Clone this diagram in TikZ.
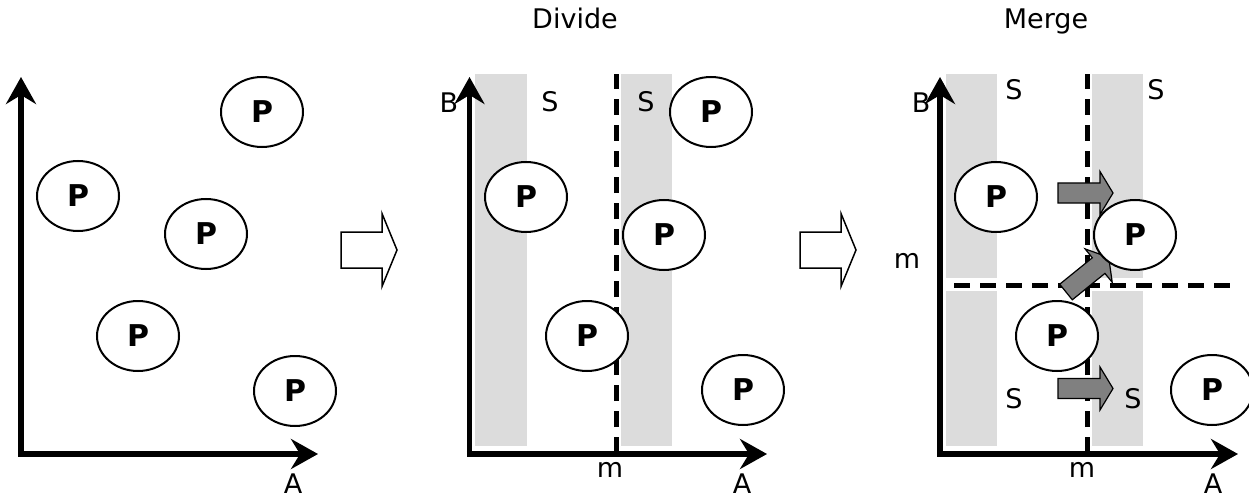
\documentclass[tikz,border=0pt]{standalone}
\usepackage{fontspec}
\setmainfont{DejaVu Sans}
\usetikzlibrary{arrows.meta,shapes.geometric}
\definecolor{stripgrey}{HTML}{DCDCDC}
\definecolor{arrowgrey}{HTML}{808080}
\begin{document}
\begin{tikzpicture}[x=1pt,y=-1pt,
  lbl/.style={font=\fontsize{27}{32}\selectfont, anchor=base, inner sep=0pt},
  pnode/.style={ellipse, draw, line width=2pt, fill=white, minimum width=82pt, minimum height=70pt, inner sep=0pt, font=\fontsize{30}{36}\selectfont\bfseries},
  axis/.style={line width=5.5pt, -{Stealth[length=27pt,width=30pt,inset=9pt]}},
  divline/.style={line width=5pt, dash pattern=on 16pt off 10pt},
  strip/.style={fill=stripgrey, draw=none},
  hollowstyle/.style={line width=1.5pt, fill=white, line join=miter},
  greystyle/.style={line width=1.2pt, fill=arrowgrey, line join=miter},
  hollow/.pic={\draw[hollowstyle] (0,-18)--(41,-18)--(41,-36.5)--(56,0)--(41,36.5)--(41,18)--(0,18)--cycle;},
  garrow/.pic={\draw[greystyle] (0,-10)--(42,-10)--(42,-21.5)--(55,0)--(42,21.5)--(42,10)--(0,10)--cycle;}
]
\useasboundingbox (0,0) rectangle (1249,497);

% grey strips
\fill[strip] (475,74) rectangle (527,446);
\fill[strip] (621,74) rectangle (672,446);
\fill[strip] (946,74) rectangle (997,278);
\fill[strip] (946,291) rectangle (997,446);
\fill[strip] (1092,74) rectangle (1143,278);
\fill[strip] (1092,291) rectangle (1143,446);

% dividing lines
\coordinate (d2b) at (616.5,453); \coordinate (d2t) at (616.5,74);
\draw[divline] (d2b) -- (d2t);
\coordinate (d3b) at (1087,453); \coordinate (d3t) at (1087,74);
\draw[divline] (d3b) -- (d3t);
\coordinate (h3l) at (954,285); \coordinate (h3r) at (1230,285);
\draw[divline] (h3l) -- (h3r);

% axes
\coordinate (o1) at (21,456.75); \coordinate (y1) at (21,77);
\coordinate (o1x) at (18.25,454); \coordinate (x1) at (318,454);
\draw[axis] (o1) -- (y1);
\draw[axis] (o1x) -- (x1);
\coordinate (o2) at (469.5,456.75); \coordinate (y2) at (469.5,77);
\coordinate (o2x) at (466.75,454); \coordinate (x2) at (767,454);
\draw[axis] (o2) -- (y2);
\draw[axis] (o2x) -- (x2);
\coordinate (o3) at (940,456.75); \coordinate (y3) at (940,77);
\coordinate (o3x) at (937.25,454); \coordinate (x3) at (1238,454);
\draw[axis] (o3) -- (y3);
\draw[axis] (o3x) -- (x3);

% step arrows
\pic (ha1) at (341,250) {hollow};
\pic (ha2) at (800,250) {hollow};
\pic (ga1) at (1058,193) {garrow};
\pic (ga2) at (1058,388.5) {garrow};
% diagonal moving arrow (39 degrees up to the right)
\draw[greystyle] (1059.7,284.2) -- (1092.3,257.8) -- (1085.1,248.9) -- (1108.7,257.4)
  -- (1112.2,282.3) -- (1104.9,273.4) -- (1072.3,299.8) -- cycle;

% points
\node[pnode] (a1) at (262,112) {P};
\node[pnode] (a2) at (78,196) {P};
\node[pnode] (a3) at (206,234) {P};
\node[pnode] (a4) at (138,336) {P};
\node[pnode] (a5) at (295,391) {P};

\node[pnode] (b1) at (711,112) {P};
\node[pnode] (b2) at (526,197) {P};
\node[pnode] (b3) at (664,235) {P};
\node[pnode] (b4) at (587,336) {P};
\node[pnode] (b5) at (743,390) {P};

\node[pnode] (c1) at (996,197) {P};
\node[pnode] (c2) at (1135,235) {P};
\node[pnode] (c3) at (1057,336) {P};
\node[pnode] (c4) at (1212,390) {P};

% labels
\node[lbl] (la1) at (293,493) {A};

\node[lbl] (tdiv) at (575,28.5) {Divide};
\node[lbl] (lb2) at (449,113) {B};
\node[lbl] (ls21) at (550,112) {S};
\node[lbl] (ls22) at (646,112) {S};
\node[lbl] (lm2) at (610,477) {m};
\node[lbl] (la2) at (742,493) {A};

\node[lbl] (tmer) at (1046,28.5) {Merge};
\node[lbl] (lb3) at (921,113) {B};
\node[lbl] (ls31) at (1014,100) {S};
\node[lbl] (ls32) at (1156,100) {S};
\node[lbl] (ls33) at (1014,408) {S};
\node[lbl] (ls34) at (1133,408) {S};
\node[lbl] (lm3l) at (907,268) {m};
\node[lbl] (lm3) at (1082,477) {m};
\node[lbl] (la3) at (1213,493) {A};
\end{tikzpicture}
\end{document}
